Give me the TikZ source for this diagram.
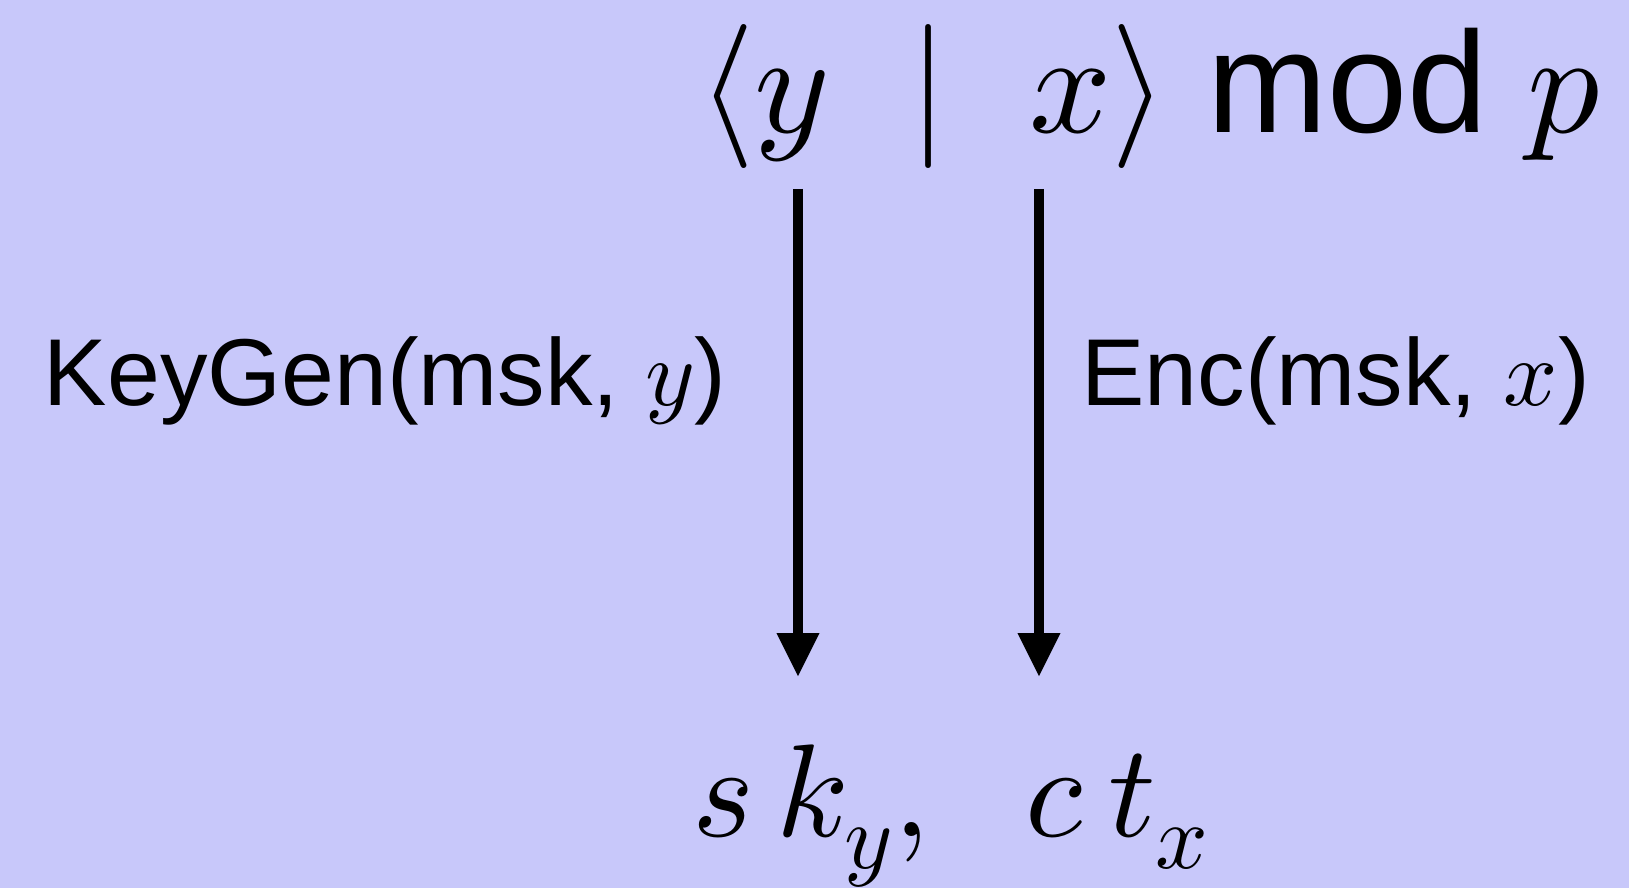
\documentclass[tikz,border=0pt]{standalone}
\usepackage{unicode-math}
\setmainfont{Liberation Sans}
\setmathfont{Latin Modern Math}
\usetikzlibrary{arrows.meta, positioning}
\definecolor{lavbg}{RGB}{200,200,250}
\tikzset{
    myformula/.style = {
        inner sep=0pt,
        font=\fontsize{72}{80}\selectfont
    },
    mylabel/.style = {
        inner sep=0pt,
        font=\fontsize{47.5}{52}\selectfont
    },
    myresult/.style = {
        inner sep=0pt,
        font=\fontsize{66}{72}\selectfont
    },
    myarrow/.style = {
        line width=5pt,
        -{Triangle[length=22pt, width=20pt]}
    }
}

\begin{document}
\begin{tikzpicture}[x=0.5pt, y=-0.5pt]

% background
\useasboundingbox (0,0) rectangle (1629,888);
\fill [lavbg] (0,0) rectangle (1629,888);

% nodes
\node (inner) [myformula, anchor=base west] at (698,133)
    {$\langle y \;\mid\; x\rangle$ mod $p$};
\node (keygen) [mylabel, anchor=base east] at (727,405) {KeyGen(msk, $y$)};
\node (enc) [mylabel, anchor=base west] at (1081,405) {Enc(msk, $x$)};
\node (keys) [myresult, anchor=base] at (951,836)
    {$s\,k_{y},\;\; c\,t_{x}$};

% arrow ends
\coordinate (ystart) at (798,189);
\coordinate (yend) at (798,677);
\coordinate (xstart) at (1039,189);
\coordinate (xend) at (1039,677);

% arrows
\draw [myarrow] (ystart) -- (yend);
\draw [myarrow] (xstart) -- (xend);

\end{tikzpicture}
\end{document}
